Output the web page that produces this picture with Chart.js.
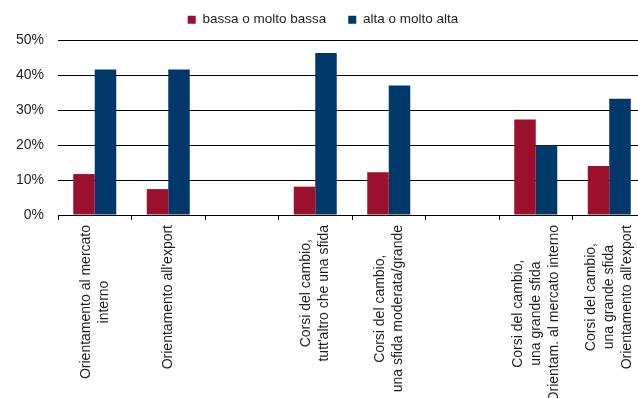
<!DOCTYPE html>
<html lang="it">
<head>
    <meta charset="UTF-8">
    <title>Sfide dei corsi del cambio</title>
    <script src="https://cdn.jsdelivr.net/npm/chart.js"></script>
    <style>
        body {
            margin: 0;
            padding: 0;
            background: #ffffff;
            overflow: hidden;
        }
        .chart-container {
            width: 638px;
            height: 398px;
            overflow: hidden;
        }
        canvas {
            display: block;
        }
    </style>
</head>
<body>

    <div class="chart-container">
        <canvas id="challengeChart" width="650" height="398"></canvas>
    </div>

    <script>
        // Category labels, one array of lines per category (empty ones are spacers)
        const categories = [
            ['Orientamento al mercato', 'interno'],
            ["Orientamento all'export"],
            [''],
            ['Corsi del cambio,', "tutt'altro che una sfida"],
            ['Corsi del cambio,', 'una sfida moderata/grande'],
            [''],
            ['Corsi del cambio,', 'una grande sfida', 'Orientam. al mercato interno'],
            ['Corsi del cambio,', 'una grande sfida', "Orientamento all'export"]
        ];

        const seriesNames = ['bassa o molto bassa', 'alta o molto alta'];

        // Values in percent
        const lowValues = [11.7, 7.4, null, 8.1, 12.2, null, 27.3, 14.0];
        const highValues = [41.6, 41.6, null, 46.3, 37.0, null, 19.9, 33.2];

        const yTicks = [0, 10, 20, 30, 40, 50];

        const RED = '#9b102d';
        const BLUE = '#00386a';
        const TEXT = '#1e1e1e';
        const FONT = '"Liberation Sans", Arial, sans-serif';

        // Draws the rotated, centred multi-line category labels under the axis
        const categoryLabels = {
            id: 'categoryLabels',
            afterDraw(chart) {
                const ctx = chart.ctx;
                const xScale = chart.scales.x;
                const top = xScale.top + 10;
                const lineGap = 18;
                ctx.save();
                ctx.font = '14px ' + FONT;
                ctx.fillStyle = TEXT;
                ctx.textAlign = 'center';
                ctx.textBaseline = 'middle';
                categories.forEach((lines, i) => {
                    const cx = xScale.getPixelForValue(i);
                    const maxW = Math.max(...lines.map(l => ctx.measureText(l).width));
                    lines.forEach((line, j) => {
                        const off = (j - (lines.length - 1) / 2) * lineGap;
                        ctx.save();
                        ctx.translate(cx + off, top + maxW / 2);
                        ctx.rotate(-Math.PI / 2);
                        ctx.fillText(line, 0, 0);
                        ctx.restore();
                    });
                });
                ctx.restore();
            }
        };

        // Fix the legend band height and lift the legend row a little
        const legendPlacement = {
            id: 'legendPlacement',
            beforeInit(chart) {
                const fit = chart.legend.fit;
                chart.legend.fit = function () {
                    fit.bind(chart.legend)();
                    this.height = 40;
                };
            },
            afterLayout(chart) {
                chart.legend.top = -9;
            }
        };

        const ctx = document.getElementById('challengeChart').getContext('2d');
        new Chart(ctx, {
            type: 'bar',
            data: {
                labels: categories.map(c => c.join(' ')),
                datasets: [
                    {
                        label: seriesNames[0],
                        data: lowValues,
                        backgroundColor: RED,
                        borderWidth: 0
                    },
                    {
                        label: seriesNames[1],
                        data: highValues,
                        backgroundColor: BLUE,
                        borderWidth: 0
                    }
                ]
            },
            options: {
                responsive: false,
                animation: false,
                devicePixelRatio: 1,
                layout: {
                    padding: { top: 0, right: 4, bottom: 0, left: 0 }
                },
                datasets: {
                    bar: {
                        barPercentage: 1,
                        categoryPercentage: 0.585
                    }
                },
                plugins: {
                    legend: {
                        display: true,
                        position: 'top',
                        labels: {
                            boxWidth: 8,
                            boxHeight: 8,
                            padding: 22,
                            color: TEXT,
                            font: { family: FONT, size: 13.5 }
                        }
                    },
                    tooltip: { enabled: false }
                },
                scales: {
                    x: {
                        offset: true,
                        grid: {
                            offset: true,
                            drawOnChartArea: false,
                            drawTicks: true,
                            tickLength: 5,
                            color: '#000000'
                        },
                        border: { display: true, color: '#000000' },
                        ticks: { display: false },
                        afterFit(scale) {
                            scale.height = 183;
                        }
                    },
                    y: {
                        min: 0,
                        max: 50,
                        afterBuildTicks(scale) {
                            scale.ticks = yTicks.map(v => ({ value: v }));
                        },
                        grid: {
                            color: '#000000',
                            lineWidth: 1,
                            drawTicks: false
                        },
                        border: { display: false },
                        ticks: {
                            padding: 14,
                            color: TEXT,
                            font: { family: FONT, size: 14 },
                            callback: v => v + '%'
                        },
                        afterFit(scale) {
                            scale.width = 58;
                        }
                    }
                }
            },
            plugins: [categoryLabels, legendPlacement]
        });
    </script>

</body>
</html>
